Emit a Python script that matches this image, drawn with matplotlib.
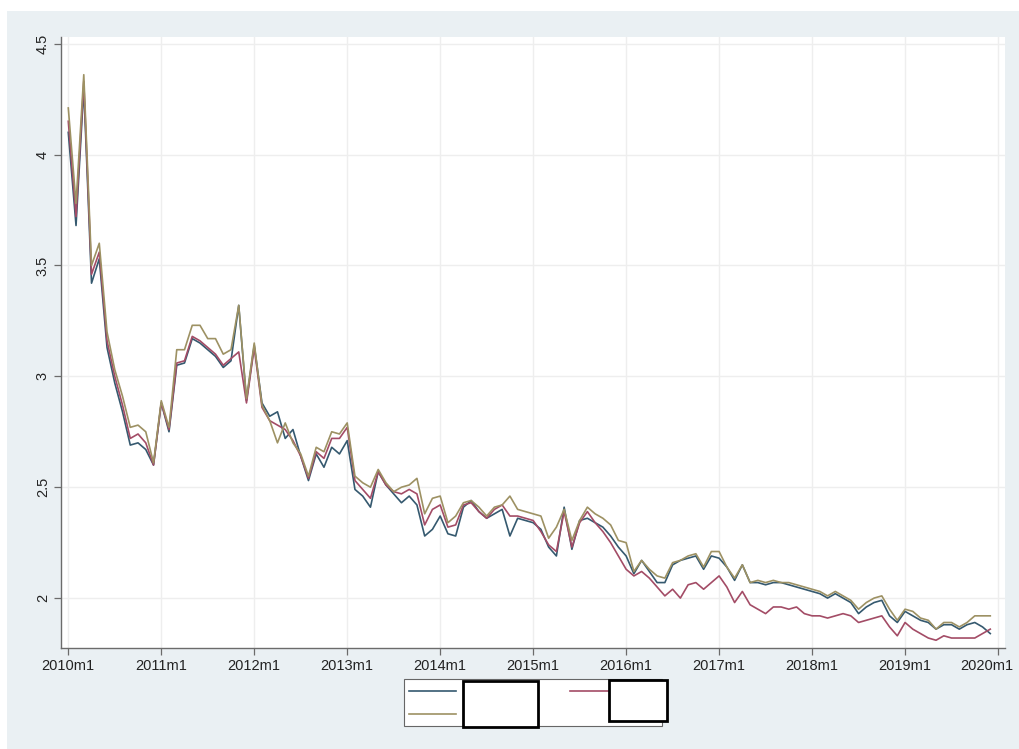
import matplotlib
matplotlib.use('Agg')
import matplotlib.pyplot as plt
from matplotlib.patches import Rectangle
from matplotlib.lines import Line2D
from matplotlib.transforms import ScaledTranslation
import numpy as np

plt.rcParams['font.family'] = ['Liberation Sans', 'DejaVu Sans']

# monthly series, 2010m1 .. 2019m12
xtick_labels = ['2010m1', '2011m1', '2012m1', '2013m1', '2014m1', '2015m1',
                '2016m1', '2017m1', '2018m1', '2019m1', '2020m1']
yticks = [2, 2.5, 3, 3.5, 4, 4.5]
ytick_labels = ['2', '2.5', '3', '3.5', '4', '4.5']

s_navy = [4.10, 3.68, 4.30, 3.42, 3.53, 3.13, 2.97, 2.84, 2.69, 2.70, 2.67, 2.60,
          2.88, 2.75, 3.05, 3.06, 3.17, 3.15, 3.12, 3.09, 3.04, 3.07, 3.32, 2.89,
          3.14, 2.88, 2.82, 2.84, 2.72, 2.76, 2.64, 2.53, 2.65, 2.59, 2.68, 2.65,
          2.71, 2.49, 2.46, 2.41, 2.57, 2.51, 2.47, 2.43, 2.46, 2.42, 2.28, 2.31,
          2.37, 2.29, 2.28, 2.41, 2.44, 2.39, 2.36, 2.38, 2.40, 2.28, 2.36, 2.35,
          2.34, 2.31, 2.23, 2.19, 2.41, 2.22, 2.35, 2.36, 2.34, 2.32, 2.28, 2.23,
          2.19, 2.11, 2.17, 2.12, 2.07, 2.07, 2.15, 2.17, 2.18, 2.19, 2.13, 2.19,
          2.18, 2.14, 2.08, 2.15, 2.07, 2.07, 2.06, 2.07, 2.07, 2.06, 2.05, 2.04,
          2.03, 2.02, 2.00, 2.02, 2.00, 1.98, 1.93, 1.96, 1.98, 1.99, 1.92, 1.89,
          1.94, 1.92, 1.90, 1.89, 1.86, 1.88, 1.88, 1.86, 1.88, 1.89, 1.87, 1.84]

s_maroon = [4.15, 3.72, 4.33, 3.46, 3.56, 3.16, 3.00, 2.87, 2.72, 2.74, 2.70, 2.60,
            2.88, 2.76, 3.06, 3.07, 3.18, 3.16, 3.13, 3.10, 3.05, 3.08, 3.11, 2.88,
            3.13, 2.86, 2.80, 2.78, 2.76, 2.71, 2.64, 2.54, 2.66, 2.63, 2.72, 2.72,
            2.77, 2.53, 2.49, 2.45, 2.57, 2.51, 2.48, 2.47, 2.49, 2.47, 2.33, 2.40,
            2.42, 2.32, 2.33, 2.42, 2.43, 2.39, 2.36, 2.40, 2.42, 2.37, 2.37, 2.36,
            2.35, 2.30, 2.24, 2.21, 2.39, 2.23, 2.34, 2.39, 2.34, 2.30, 2.25, 2.19,
            2.13, 2.10, 2.12, 2.09, 2.05, 2.01, 2.04, 2.00, 2.06, 2.07, 2.04, 2.07,
            2.10, 2.05, 1.98, 2.03, 1.97, 1.95, 1.93, 1.96, 1.96, 1.95, 1.96, 1.93,
            1.92, 1.92, 1.91, 1.92, 1.93, 1.92, 1.89, 1.90, 1.91, 1.92, 1.87, 1.83,
            1.89, 1.86, 1.84, 1.82, 1.81, 1.83, 1.82, 1.82, 1.82, 1.82, 1.84, 1.86]

s_tan = [4.21, 3.78, 4.36, 3.50, 3.60, 3.20, 3.03, 2.91, 2.77, 2.78, 2.75, 2.61,
         2.89, 2.77, 3.12, 3.12, 3.23, 3.23, 3.17, 3.17, 3.10, 3.12, 3.32, 2.90,
         3.15, 2.87, 2.80, 2.70, 2.79, 2.70, 2.65, 2.55, 2.68, 2.66, 2.75, 2.74,
         2.79, 2.55, 2.52, 2.50, 2.58, 2.52, 2.48, 2.50, 2.51, 2.54, 2.38, 2.45,
         2.46, 2.34, 2.37, 2.43, 2.44, 2.41, 2.37, 2.41, 2.42, 2.46, 2.40, 2.39,
         2.38, 2.37, 2.27, 2.32, 2.40, 2.26, 2.35, 2.41, 2.38, 2.36, 2.33, 2.26,
         2.25, 2.12, 2.17, 2.13, 2.10, 2.09, 2.16, 2.17, 2.19, 2.20, 2.14, 2.21,
         2.21, 2.14, 2.09, 2.15, 2.07, 2.08, 2.07, 2.08, 2.07, 2.07, 2.06, 2.05,
         2.04, 2.03, 2.01, 2.03, 2.01, 1.99, 1.95, 1.98, 2.00, 2.01, 1.95, 1.90,
         1.95, 1.94, 1.91, 1.90, 1.86, 1.89, 1.89, 1.87, 1.89, 1.92, 1.92, 1.92]

c_navy, c_maroon, c_tan = '#35596f', '#a34c66', '#9d9163'

W, H = 1019, 749
fig = plt.figure(figsize=(W / 100, H / 100), dpi=100, facecolor='white')


def fx(x):
    return x / W


def fy(y):
    return 1 - y / H


# Stata-like outer graph region
fig.patches.append(Rectangle((fx(7), 0), 1, fy(11), transform=fig.transFigure,
                             facecolor='#eaf0f3', edgecolor='none', zorder=-10))

ax = fig.add_axes([fx(61), fy(648), fx(944), 611 / H])
ax.set_facecolor('white')

months = np.arange(len(s_navy))
ax.plot(months, s_navy, color=c_navy, lw=1.2)
ax.plot(months, s_maroon, color=c_maroon, lw=1.2)
ax.plot(months, s_tan, color=c_tan, lw=1.2)

ax.set_xlim(-0.94, 120.9)
ax.set_ylim(1.775, 4.53)

for s in ['top', 'right']:
    ax.spines[s].set_visible(False)
for s in ['left', 'bottom']:
    ax.spines[s].set_color('#6b6b6b')
    ax.spines[s].set_linewidth(1.0)
ax.tick_params(direction='out', length=5, width=0.9, color='#6b6b6b', pad=3)
ax.grid(True, color='#eeeeee', lw=1.0)
ax.set_axisbelow(True)

ax.set_xticks(np.arange(0, 121, 12))
ax.set_xticklabels(xtick_labels, fontsize=10.5, color='#222222')
ax.set_yticks(yticks)
ax.set_yticklabels(ytick_labels, fontsize=10.5, rotation=90, va='center', color='#222222')

# last label sits on the right edge; nudge it in a little
last = ax.get_xticklabels()[-1]
last.set_transform(last.get_transform() + ScaledTranslation(-8 / 72, 0, fig.dpi_scale_trans))

# legend (labels blacked out in the reference)
fig.patches.append(Rectangle((fx(404), fy(726)), fx(258), 47 / H, transform=fig.transFigure,
                             facecolor='white', edgecolor='#666666', lw=0.8, zorder=3))
fig.lines.append(Line2D([fx(409), fx(456)], [fy(691), fy(691)], transform=fig.transFigure,
                        color=c_navy, lw=1.2, zorder=4))
fig.lines.append(Line2D([fx(409), fx(456)], [fy(714), fy(714)], transform=fig.transFigure,
                        color=c_tan, lw=1.2, zorder=4))
fig.lines.append(Line2D([fx(570), fx(609)], [fy(691), fy(691)], transform=fig.transFigure,
                        color=c_maroon, lw=1.2, zorder=4))
fig.patches.append(Rectangle((fx(463), fy(727)), fx(75), 46 / H, transform=fig.transFigure,
                             facecolor='white', edgecolor='black', lw=2.0, zorder=5))
fig.patches.append(Rectangle((fx(609), fy(721)), fx(58), 41 / H, transform=fig.transFigure,
                             facecolor='white', edgecolor='black', lw=2.0, zorder=5))

fig.savefig('out.png', dpi=100, facecolor='white')
